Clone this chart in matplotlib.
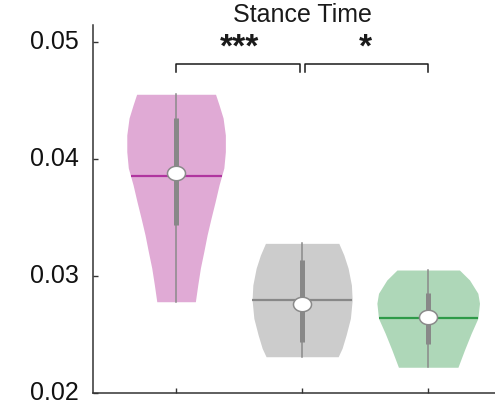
import numpy as np
import matplotlib
matplotlib.use("Agg")
import matplotlib.pyplot as plt
import matplotlib.transforms as mtransforms
from matplotlib.path import Path
from matplotlib.markers import MarkerStyle

plt.rcParams['font.family'] = ['Liberation Sans', 'DejaVu Sans']

# groups and their colours
groups = [1, 2, 3]
fill_colors = ['#E0AAD5', '#CCCCCC', '#AED7B8']
mean_colors = ['#B0359F', '#888888', '#2E9A48']

# violin outlines: stance time level and half width (x units)
prof_levels = [
    [0.04553, 0.04462, 0.04350, 0.04205, 0.04062, 0.03923, 0.03778,
     0.03635, 0.03496, 0.03350, 0.03208, 0.03068, 0.02923, 0.02780],
    [0.03279, 0.03179, 0.03066, 0.02923, 0.02795, 0.02638, 0.02496,
     0.02382, 0.02310],
    [0.03051, 0.02966, 0.02852, 0.02767, 0.02638, 0.02510, 0.02368,
     0.02220],
]
prof_halfwidth = [
    [0.313, 0.341, 0.373, 0.391, 0.391, 0.379, 0.341,
     0.310, 0.278, 0.246, 0.220, 0.193, 0.172, 0.153],
    [0.291, 0.331, 0.365, 0.391, 0.397, 0.383, 0.349, 0.317, 0.286],
    [0.248, 0.328, 0.394, 0.407, 0.394, 0.341, 0.288, 0.236],
]

# summary statistics
medians = [0.03878, 0.02761, 0.02650]
means = [0.03855, 0.02795, 0.02638]
q1 = [0.03436, 0.02436, 0.02422]
q3 = [0.04353, 0.03137, 0.02852]
whisk_lo = [0.02780, 0.02310, 0.02220]
whisk_hi = [0.04553, 0.03279, 0.03051]

# significance brackets
pairs = [(1, 2), (2, 3)]
stars = ['***', '*']
bracket_y = 0.04809
bracket_drop = 0.00068

fig = plt.figure(figsize=(4.95, 4.05), dpi=100)
ax = fig.add_axes([93 / 495, 12 / 405, 402 / 495, 368 / 405])

# slightly flattened circle for the median marker
t = np.linspace(0, 2 * np.pi, 60)
ell = Path(np.column_stack([np.cos(t), 0.8 * np.sin(t)]), closed=True)
med_marker = MarkerStyle(ell)

for i, x in enumerate(groups):
    lv = np.array(prof_levels[i])
    hw = np.array(prof_halfwidth[i])
    ax.fill_betweenx(lv, x - hw, x + hw, color=fill_colors[i], lw=0, zorder=1)
    # mean line across the violin
    w = np.interp(means[i], lv[::-1], hw[::-1])
    ax.plot([x - w, x + w], [means[i]] * 2, color=mean_colors[i], lw=1.6,
            solid_capstyle='butt', zorder=2)
    # whisker and box
    ax.plot([x, x], [whisk_lo[i], whisk_hi[i]], color='#8A8A8A', lw=1.1, zorder=3)
    ax.plot([x, x], [q1[i], q3[i]], color='#888888', lw=3.6,
            solid_capstyle='butt', zorder=4)
    ax.plot(x, medians[i], marker=med_marker, ms=13, mfc='white',
            mec='#8A8A8A', mew=1.1, zorder=5)

for (a, b), s in zip(pairs, stars):
    xa = a + (0.0 if a == 1 else 0.02)
    xb = b - (0.02 if b == 2 else 0.0)
    ax.plot([xa, xa, xb, xb],
            [bracket_y - bracket_drop, bracket_y, bracket_y, bracket_y - bracket_drop],
            color='#1a1a1a', lw=1.1, zorder=5)
    ax.text((a + b) / 2, bracket_y + 0.0001, s, ha='center', va='bottom',
            fontsize=24, fontweight='bold', color='#1a1a1a')

fig.text(302 / 495, 1 - 15 / 405, 'Stance Time', ha='center', va='center',
         fontsize=18, color='#1a1a1a')

ax.set_xlim(0.341, 3.53)
ax.set_ylim(0.02, 0.05145)
ax.set_xticks(groups)
ax.set_xticklabels([])
ax.set_yticks([0.02, 0.03, 0.04, 0.05])
ax.set_yticklabels(['0.02', '0.03', '0.04', '0.05'])
ax.tick_params(direction='in', length=3.5, width=1, colors='#333333',
               labelsize=18, labelcolor='#111111', pad=10)
# nudge the y labels up a little so the bottom one stays inside
lift = mtransforms.ScaledTranslation(0, 2 / 72, fig.dpi_scale_trans)
for lab in ax.get_yticklabels():
    lab.set_transform(lab.get_transform() + lift)
for side in ['top', 'right']:
    ax.spines[side].set_visible(False)
for side in ['left', 'bottom']:
    ax.spines[side].set_color('#333333')
    ax.spines[side].set_linewidth(1.1)

fig.savefig('out.png', dpi=100)
